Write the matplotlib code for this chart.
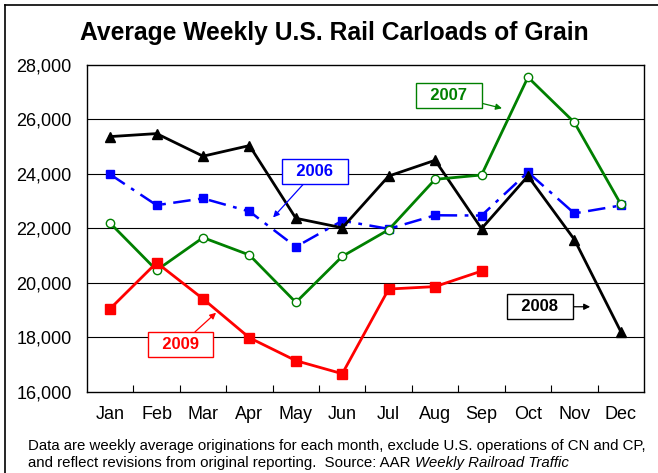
import numpy as np
import matplotlib
matplotlib.use('Agg')
import matplotlib.pyplot as plt
from matplotlib.lines import Line2D

plt.rcParams['font.family'] = ['Liberation Sans', 'DejaVu Sans']

# ── Data ─────────────────────────────────────────────────────────────
months = ['Jan', 'Feb', 'Mar', 'Apr', 'May', 'Jun',
          'Jul', 'Aug', 'Sep', 'Oct', 'Nov', 'Dec']
y2006 = [23980, 22850, 23100, 22620, 21320, 22280,
         21980, 22480, 22470, 24060, 22550, 22840]
y2007 = [22190, 20460, 21660, 21020, 19280, 20970,
         21950, 23800, 23960, 27550, 25890, 22890]
y2008 = [25370, 25480, 24650, 25040, 22370, 22020,
         23920, 24500, 21990, 23920, 21590, 18210]
y2009 = [19050, 20740, 19410, 17980, 17140, 16660,
         19770, 19860, 20430]
yticks = [16000, 18000, 20000, 22000, 24000, 26000, 28000]

x = np.arange(len(months))

fig = plt.figure(figsize=(6.58, 4.73), dpi=100)
ax = fig.add_axes([0.1322, 0.1719, 0.8465, 0.6907])

for g in yticks[1:-1]:
    ax.axhline(g, color='black', lw=0.8, zorder=1)

ax.plot(x, y2006, color='#0000FF', lw=1.8, dashes=(7, 3, 1.5, 3),
        marker='s', ms=6, mfc='#0000FF', mec='#0000FF', zorder=3)
ax.plot(x, y2007, color='#008000', lw=2.0,
        marker='o', ms=6, mfc='white', mec='#008000', mew=1.0, zorder=4)
ax.plot(x, y2008, color='black', lw=2.0,
        marker='^', ms=6.5, mfc='black', mec='black', zorder=3)
ax.plot(x[:len(y2009)], y2009, color='#FF0000', lw=2.0,
        marker='s', ms=6.5, mfc='#FF0000', mec='#FF0000', zorder=5)

ax.set_xlim(-0.5, 11.5)
ax.set_ylim(16000, 28000)
ax.set_yticks(yticks)
ax.set_yticklabels([f'{v:,}' for v in yticks], fontsize=13)
ax.tick_params(axis='y', length=0, pad=11)
ax.set_xticks(x)
ax.set_xticklabels(months, fontsize=13)
ax.tick_params(axis='x', which='major', length=0, pad=10)
ax.set_xticks(np.arange(0.5, 11.5, 1), minor=True)
ax.tick_params(axis='x', which='minor', direction='in', length=5,
               width=0.8, color='black')
for s in ax.spines.values():
    s.set_linewidth(1.0)

# ── Labels with arrows ───────────────────────────────────────────────
def label(txt, box_xy, tip, col):
    ax.annotate(txt, xy=tip, xytext=box_xy, ha='center', va='center',
                fontsize=12, fontweight='bold', color=col, zorder=6,
                bbox=dict(boxstyle='square,pad=0.3', fc='white', ec=col, lw=1.0),
                arrowprops=dict(arrowstyle='-|>', color=col, lw=0.9,
                                mutation_scale=9, shrinkA=0, shrinkB=0))

label('  2006  ', (4.41, 24090), (3.51, 22400), '#0000FF')
label('  2007  ', (7.30, 26890), (8.44, 26410), '#008000')
label('  2008  ', (9.26, 19120), (10.34, 19120), 'black')
label('  2009  ', (1.52, 17720), (2.28, 18900), '#FF0000')

fig.text(0.508, 0.930, 'Average Weekly U.S. Rail Carloads of Grain',
         ha='center', va='center', fontsize=17.7, fontweight='bold')

fig.text(0.043, 0.057, 'Data are weekly average originations for each month, '
         'exclude U.S. operations of CN and CP,', fontsize=10.8, va='center')
t2 = fig.text(0.043, 0.022, 'and reflect revisions from original reporting.  '
              'Source: AAR ', fontsize=10.8, va='center')
ax.annotate('Weekly Railroad Traffic', xy=(1, 0.5), xycoords=t2,
            va='center', ha='left', fontsize=10.8, style='italic',
            annotation_clip=False)

# outer frame (top and left edges visible in the reference)
fig.add_artist(Line2D([5/658, 5/658], [0, 1 - 5/473], color='black', lw=1.2))
fig.add_artist(Line2D([5/658, 1], [1 - 5/473, 1 - 5/473], color='black', lw=1.2))

fig.savefig('out.png', dpi=100, facecolor='white')
